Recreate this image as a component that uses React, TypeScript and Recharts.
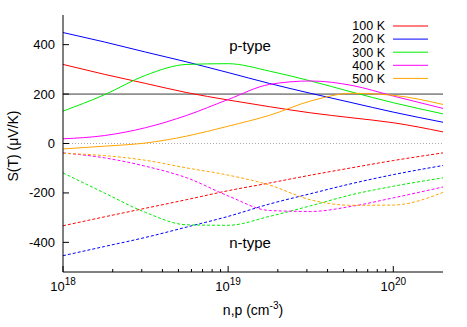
import React from 'react'
import {LineChart, Line, XAxis, YAxis, ReferenceLine} from 'recharts'

// x positions are log10 of carrier concentration (cm^-3)
const logN = [18, 18.25, 18.5, 18.75, 19, 19.25, 19.5, 19.75, 20, 20.301]

const temps = ['100 K', '200 K', '300 K', '400 K', '500 K']
const colors = ['#ff0000', '#0000ff', '#00ee00', '#ff00ff', '#ffa500']

// p-type (solid)
const p100 = [320, 280, 243, 206, 176, 149, 124, 104, 84, 47]
const p200 = [449, 411, 370, 330, 287, 243, 203, 165, 127, 86]
const p300 = [131, 197, 276, 320, 323, 293, 253, 208, 165, 120]
const p400 = [19, 32, 64, 114, 178, 239, 253, 235, 192, 142]
const p500 = [-22, -11, 2, 30, 70, 114, 172, 203, 195, 158]

// n-type (dashed)
const n100 = [-333, -297, -262, -227, -191, -160, -128, -98, -69, -38]
const n200 = [-454, -417, -380, -338, -295, -245, -203, -162, -126, -89]
const n300 = [-119, -200, -279, -329, -331, -295, -252, -207, -173, -139]
const n400 = [-38, -58, -92, -139, -212, -271, -275, -254, -220, -176]
const n500 = [-40, -49, -68, -99, -128, -168, -228, -250, -249, -198]

const majorX = [18, 19, 20]
const minorX = [
    18.301, 18.477, 18.602, 18.699, 18.778, 18.845, 18.903, 18.954,
    19.301, 19.477, 19.602, 19.699, 19.778, 19.845, 19.903, 19.954,
]
const xTicks = [...majorX, ...minorX]
const yTicks = [-400, -200, 0, 200, 400]

const pSeries = [p100, p200, p300, p400, p500]
const nSeries = [n100, n200, n300, n400, n500]

const data = logN.map((x, i) => {
    const row: any = {x}
    pSeries.forEach((s, k) => (row['p' + k] = s[i]))
    nSeries.forEach((s, k) => (row['n' + k] = s[i]))
    return row
})

const font = '"Liberation Sans", Arial, sans-serif'

const BottomTick = (props: any) => {
    const {x, y, payload} = props
    const major = majorX.includes(payload.value)
    return (
        <g>
            <line x1={x} x2={x} y1={y} y2={y - (major ? 6 : 3)} stroke="#000" />
            {major && (
                <text x={x} y={y + 19} textAnchor="middle" fontSize={13} fontFamily={font} fill="#000">
                    <tspan>10</tspan>
                    <tspan dy={-6} fontSize={10}>{payload.value}</tspan>
                </text>
            )}
        </g>
    )
}

const TopTick = (props: any) => {
    const {x, y, payload} = props
    const major = majorX.includes(payload.value)
    return <line x1={x} x2={x} y1={y} y2={y + (major ? 6 : 3)} stroke="#000" />
}

const LeftTick = (props: any) => {
    const {x, y, payload} = props
    return (
        <g>
            <line x1={x} x2={x + 6} y1={y} y2={y} stroke="#000" />
            <text x={x - 8} y={y} dy="0.35em" textAnchor="end" fontSize={13} fontFamily={font} fill="#000">
                {payload.value}
            </text>
        </g>
    )
}

const RightTick = (props: any) => {
    const {x, y} = props
    return <line x1={x} x2={x - 6} y1={y} y2={y} stroke="#000" />
}

const App = () => {
    return (
        <div style={{position: 'absolute', left: 0, top: 0, width: 467, height: 327, background: '#fff'}}>
            <LineChart width={467} height={327} data={data} margin={{top: 15, right: 24, bottom: 0, left: 0}}>
                <XAxis dataKey="x" type="number" domain={[18, 20.301]} allowDataOverflow ticks={xTicks} interval={0}
                       height={55} tickSize={0} tickMargin={0} tick={<BottomTick />} stroke="#000" />
                <XAxis xAxisId="top" dataKey="x" orientation="top" type="number" domain={[18, 20.301]} allowDataOverflow
                       ticks={xTicks} interval={0} height={0} tickSize={0} tickMargin={0} tick={<TopTick />} stroke="#000" />
                <YAxis type="number" domain={[-520, 520]} allowDataOverflow ticks={yTicks} interval={0} width={63}
                       tickSize={0} tickMargin={0} tick={<LeftTick />} stroke="#000" />
                <YAxis yAxisId="right" orientation="right" type="number" domain={[-520, 520]} allowDataOverflow
                       ticks={yTicks} interval={0} width={0} tickSize={0} tickMargin={0} tick={<RightTick />} stroke="#000" />
                <ReferenceLine y={0} stroke="#aaaaaa" strokeDasharray="1 2" />
                <ReferenceLine y={200} stroke="#3c3c3c" />
                {/* invisible series so the mirrored border axes get a domain */}
                <Line xAxisId="top" yAxisId="right" dataKey="p0" stroke="none" dot={false} legendType="none"
                      isAnimationActive={false} />
                {temps.map((t, k) => (
                    <Line key={'p' + k} type="monotone" dataKey={'p' + k} name={t} stroke={colors[k]} strokeWidth={1}
                          dot={false} isAnimationActive={false} />
                ))}
                {temps.map((t, k) => (
                    <Line key={'n' + k} type="monotone" dataKey={'n' + k} name={t} stroke={colors[k]} strokeWidth={1}
                          strokeDasharray="3 2" dot={false} isAnimationActive={false} legendType="none" />
                ))}
            </LineChart>
            <svg width={467} height={327} style={{position: 'absolute', left: 0, top: 0, pointerEvents: 'none'}}
                 fontFamily={font} fill="#000">
                {temps.map((t, k) => (
                    <g key={t}>
                        <text x={385} y={26 + k * 13.1} dy="0.35em" textAnchor="end" fontSize={12.5}>{t}</text>
                        <line x1={393} x2={428} y1={26 + k * 13.1} y2={26 + k * 13.1} stroke={colors[k]} />
                    </g>
                ))}
                <text x={250} y={46} dy="0.35em" textAnchor="middle" fontSize={15}>p-type</text>
                <text x={250} y={243} dy="0.35em" textAnchor="middle" fontSize={15}>n-type</text>
                <text x={253} y={315} textAnchor="middle" fontSize={14}>
                    <tspan>n,p (cm</tspan>
                    <tspan dy={-6} fontSize={10}>-3</tspan>
                    <tspan dy={6}>)</tspan>
                </text>
                <text transform="translate(18,146) rotate(-90)" textAnchor="middle" fontSize={14}>S(T) (μV/K)</text>
            </svg>
        </div>
    )
}

export default App
